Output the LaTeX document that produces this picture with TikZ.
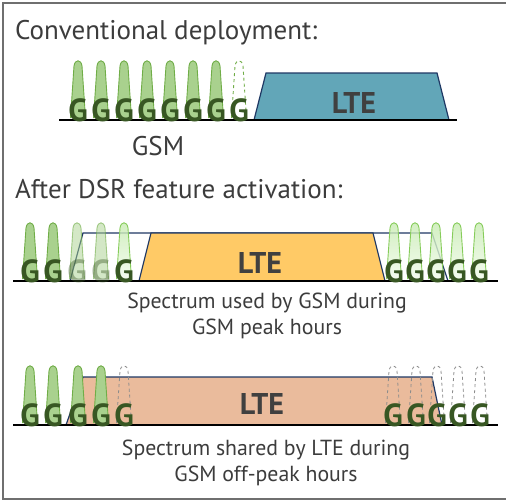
\documentclass[tikz,border=0pt]{standalone}
\usepackage{fontspec}
\setmainfont{PT Sans}
\usetikzlibrary{positioning}

\definecolor{txtgray}{HTML}{3C3C3C}
\definecolor{gdark}{HTML}{385723}
\definecolor{gfill}{HTML}{A9D18E}
\definecolor{gline}{HTML}{70AD47}
\definecolor{glightA}{HTML}{C6EAB0}
\definecolor{glightB}{HTML}{F2FCEC}
\definecolor{glineB}{HTML}{86CC5A}
\definecolor{ggray}{HTML}{8C8C8C}
\definecolor{navy}{HTML}{1F3864}
\definecolor{lteA}{HTML}{62A6B8}
\definecolor{lteB}{HTML}{FFCA66}
\definecolor{lteC}{HTML}{EABB9C}
\definecolor{ltetext}{HTML}{404040}
\definecolor{framegray}{HTML}{6F6F6F}

\tikzset{
  heading/.style={anchor=base west, inner sep=0pt, text=txtgray, font=\fontsize{27}{32}\selectfont},
  caption/.style={anchor=base, inner sep=0pt, text=txtgray, font=\fontsize{21.8}{26}\selectfont},
  gsm/.style={anchor=base, inner sep=0pt, text=gdark, font=\bfseries\fontsize{32}{36}\selectfont},
  gsmfaded/.style={gsm, text opacity=0.4},
  lte/.style={anchor=base, inner sep=0pt, text=ltetext, font=\bfseries\fontsize{30}{34}\selectfont},
  band/.style={draw=navy, line width=1.2pt},
  bumpfull/.style={fill=gfill, draw=gline, line width=0.9pt},
  bumpfaded/.style={bumpfull, fill opacity=0.5, draw opacity=0.6},
  bumplight/.style={top color=glightA, bottom color=glightB, draw=glineB, line width=0.9pt, fill opacity=0.8},
  bumpspare/.style={draw=gline, dashed, line width=0.9pt},
  bumpfree/.style={draw=ggray, dashed, line width=0.8pt},
  axis/.style={black, line width=1.5pt}
}

% one GSM carrier: style, centre x, top y, base y
\newcommand{\gsmbump}[4][]{%
  \draw[#1] ({#2-7.5},{#4-2}) -- ({#2-4},{#3+6})
    .. controls ({#2-3},{#3-1}) and ({#2+3},{#3-1}) .. ({#2+4},{#3+6})
    -- ({#2+7.5},{#4-2});}

\begin{document}
\begin{tikzpicture}[x=1pt,y=-1pt]
        \useasboundingbox (0,0) rectangle (506,501);
        \draw[framegray, line width=2pt] (508,3) -- (3,3) -- (3,499) -- (508,499);

        % conventional deployment
        \node[heading] (conv) at (15,39) {Conventional deployment:};
        \draw[band, fill=lteA] (254,120) -- (266,73) -- (437,73) -- (449,120) -- cycle;
        \node[lte] (lteone) at (354,113) {LTE};
        \foreach \c in {78,101,124,147,170,193,216}
          \gsmbump[bumpfull]{\c}{60}{120};
        \gsmbump[bumpspare]{239}{60}{120};
        \draw[axis] (59,120) -- (457,120);
        \foreach \c [count=\i] in {78,101,124,147,170,193,216,239}
          \node[gsm] (ga\i) at (\c,121.5) {G};
        \node[heading, anchor=base] (gsmlabel) at (158,155) {GSM};

        % after DSR activation, peak hours
        \node[heading] (dsr) at (15,198) {After DSR feature activation:};
        \draw[band, fill=white] (70,281) -- (83,233) -- (432,233) -- (448,281) -- cycle;
        \draw[band, fill=lteB] (139,281) -- (151,233) -- (373,233) -- (385,281) -- cycle;
        \node[lte] (ltetwo) at (260,273) {LTE};
        \foreach \c in {30,53}
          \gsmbump[bumpfull]{\c}{222}{281};
        \foreach \c in {77,101}
          \gsmbump[bumpfaded]{\c}{222}{281};
        \foreach \c in {124,394,415,436,457,479}
          \gsmbump[bumplight]{\c}{222}{281};
        \draw[axis] (13,281) -- (498,281);
        \foreach \c [count=\i] in {30,53,124,394,415,436,457,479}
          \node[gsm] (gb\i) at (\c,282.5) {G};
        \foreach \c [count=\i] in {77,101}
          \node[gsmfaded] (gbf\i) at (\c,282.5) {G};
        \node[caption] (peakA) at (267,308) {Spectrum used by GSM during};
        \node[caption] (peakB) at (267,334) {GSM peak hours};

        % after DSR activation, off-peak hours
        \draw[band, fill=lteC] (66,425) -- (83,377) -- (432,377) -- (442,425) -- cycle;
        \node[lte] (ltethree) at (262,414) {LTE};
        \foreach \c in {30,53,78,101}
          \gsmbump[bumpfull]{\c}{365}{425};
        \foreach \c in {124,393,416,437,458,480}
          \gsmbump[bumpfree]{\c}{365}{425};
        \draw[axis] (13,425) -- (498,425);
        \foreach \c [count=\i] in {30,53,78,101,124,393,416,437,458,480}
          \node[gsm] (gc\i) at (\c,426.5) {G};
        \node[caption] (offA) at (266,455) {Spectrum shared by LTE during};
        \node[caption] (offB) at (266,481) {GSM off-peak hours};
\end{tikzpicture}
\end{document}
